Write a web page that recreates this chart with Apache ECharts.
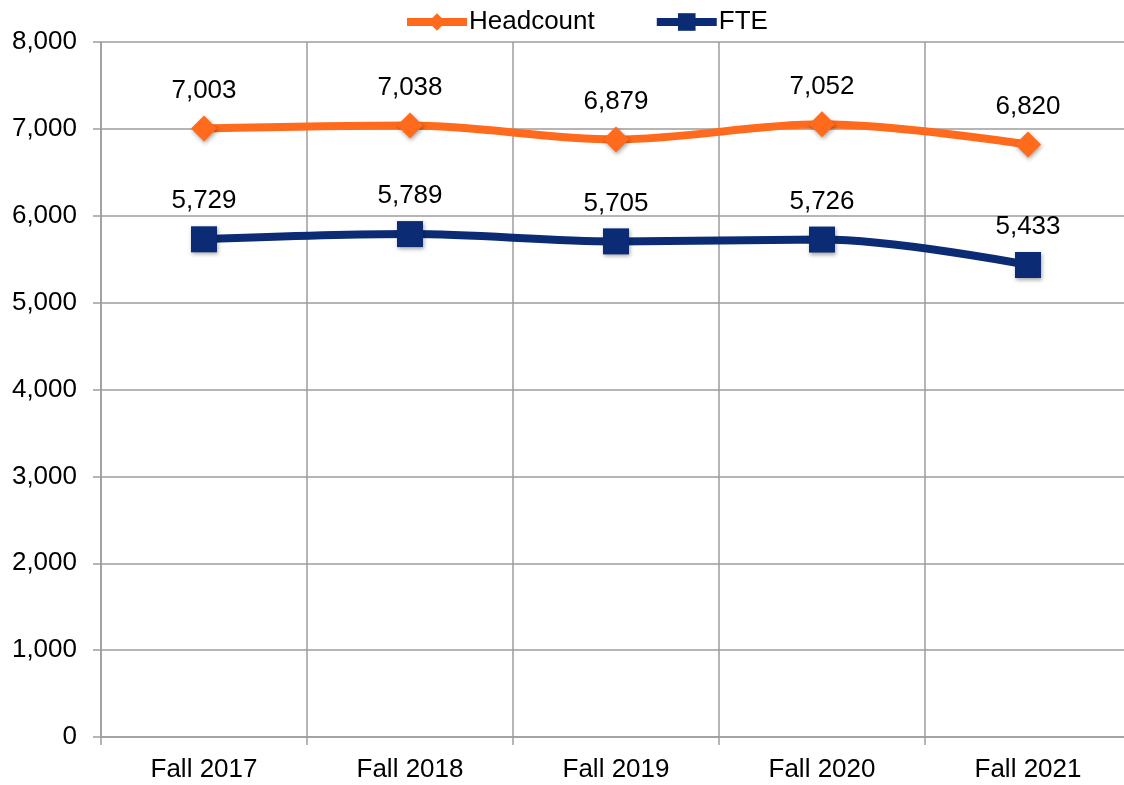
<!DOCTYPE html>
<html>
<head>
<meta charset="utf-8">
<script src="https://cdn.jsdelivr.net/npm/echarts@6/dist/echarts.min.js"></script>
<style>
  html, body { margin: 0; padding: 0; background: #fff; }
  #chart { width: 1124px; height: 785px; }
</style>
</head>
<body>
<div id="chart"></div>
<script>
// enrollment by fall term
const terms = ['Fall 2017', 'Fall 2018', 'Fall 2019', 'Fall 2020', 'Fall 2021']
const headcount = [7003, 7038, 6879, 7052, 6820]
const fte = [5729, 5789, 5705, 5726, 5433]
const yTicks = [0, 1000, 2000, 3000, 4000, 5000, 6000, 7000, 8000]

const font = 'Liberation Sans, Arial, sans-serif'
const gridColor = '#9d9d9d'

function fmt (v) {
  return v.toLocaleString('en-US')
}

function lineSeries (name, data, color, symbol, size) {
  return {
    name: name,
    type: 'line',
    smooth: 0.35,
    data: data,
    symbol: symbol,
    symbolSize: size,
    lineStyle: { color: color, width: 8 },
    itemStyle: {
      color: color,
      shadowColor: 'rgba(0,0,0,0.35)',
      shadowBlur: 4,
      shadowOffsetX: 1,
      shadowOffsetY: 2
    },
    label: {
      show: true,
      position: 'top',
      distance: 12,
      color: '#000',
      fontFamily: font,
      fontSize: 26,
      formatter: p => fmt(p.value)
    },
    emphasis: { disabled: true },
    z: name === 'FTE' ? 3 : 2
  }
}

const chart = echarts.init(document.getElementById('chart'))
chart.setOption({
  backgroundColor: '#fff',
  animation: false,
  legend: {
    top: 4,
    left: 398,
    itemWidth: 60,
    itemHeight: 22,
    itemGap: 58,
    lineStyle: { width: 8 },
    textStyle: { fontFamily: font, fontSize: 26, color: '#000', padding: [0, 0, 0, -3] },
    data: ['Headcount', 'FTE']
  },
  grid: { left: 101, width: 1030, top: 42, bottom: 48, outerBoundsMode: 'none' },
  xAxis: {
    type: 'category',
    data: terms,
    boundaryGap: true,
    axisLine: { lineStyle: { color: gridColor, width: 1.5 } },
    axisTick: { show: true, length: 8, lineStyle: { color: gridColor, width: 1.5 } },
    axisLabel: { color: '#000', fontFamily: font, fontSize: 26, margin: 20 },
    splitLine: { show: true, lineStyle: { color: gridColor, width: 1.5 } }
  },
  yAxis: {
    type: 'value',
    min: yTicks[0],
    max: yTicks[yTicks.length - 1],
    interval: 1000,
    axisLine: { show: true, lineStyle: { color: gridColor, width: 1.5 } },
    axisTick: { show: true, length: 8, lineStyle: { color: gridColor, width: 1.5 } },
    axisLabel: { color: '#000', fontFamily: font, fontSize: 26, margin: 24, formatter: v => fmt(v) },
    splitLine: { show: true, lineStyle: { color: gridColor, width: 1.5 } }
  },
  series: [
    lineSeries('Headcount', headcount, '#ff6a1c', 'diamond', 26),
    lineSeries('FTE', fte, '#0b2c74', 'rect', 26)
  ]
})
</script>
</body>
</html>
